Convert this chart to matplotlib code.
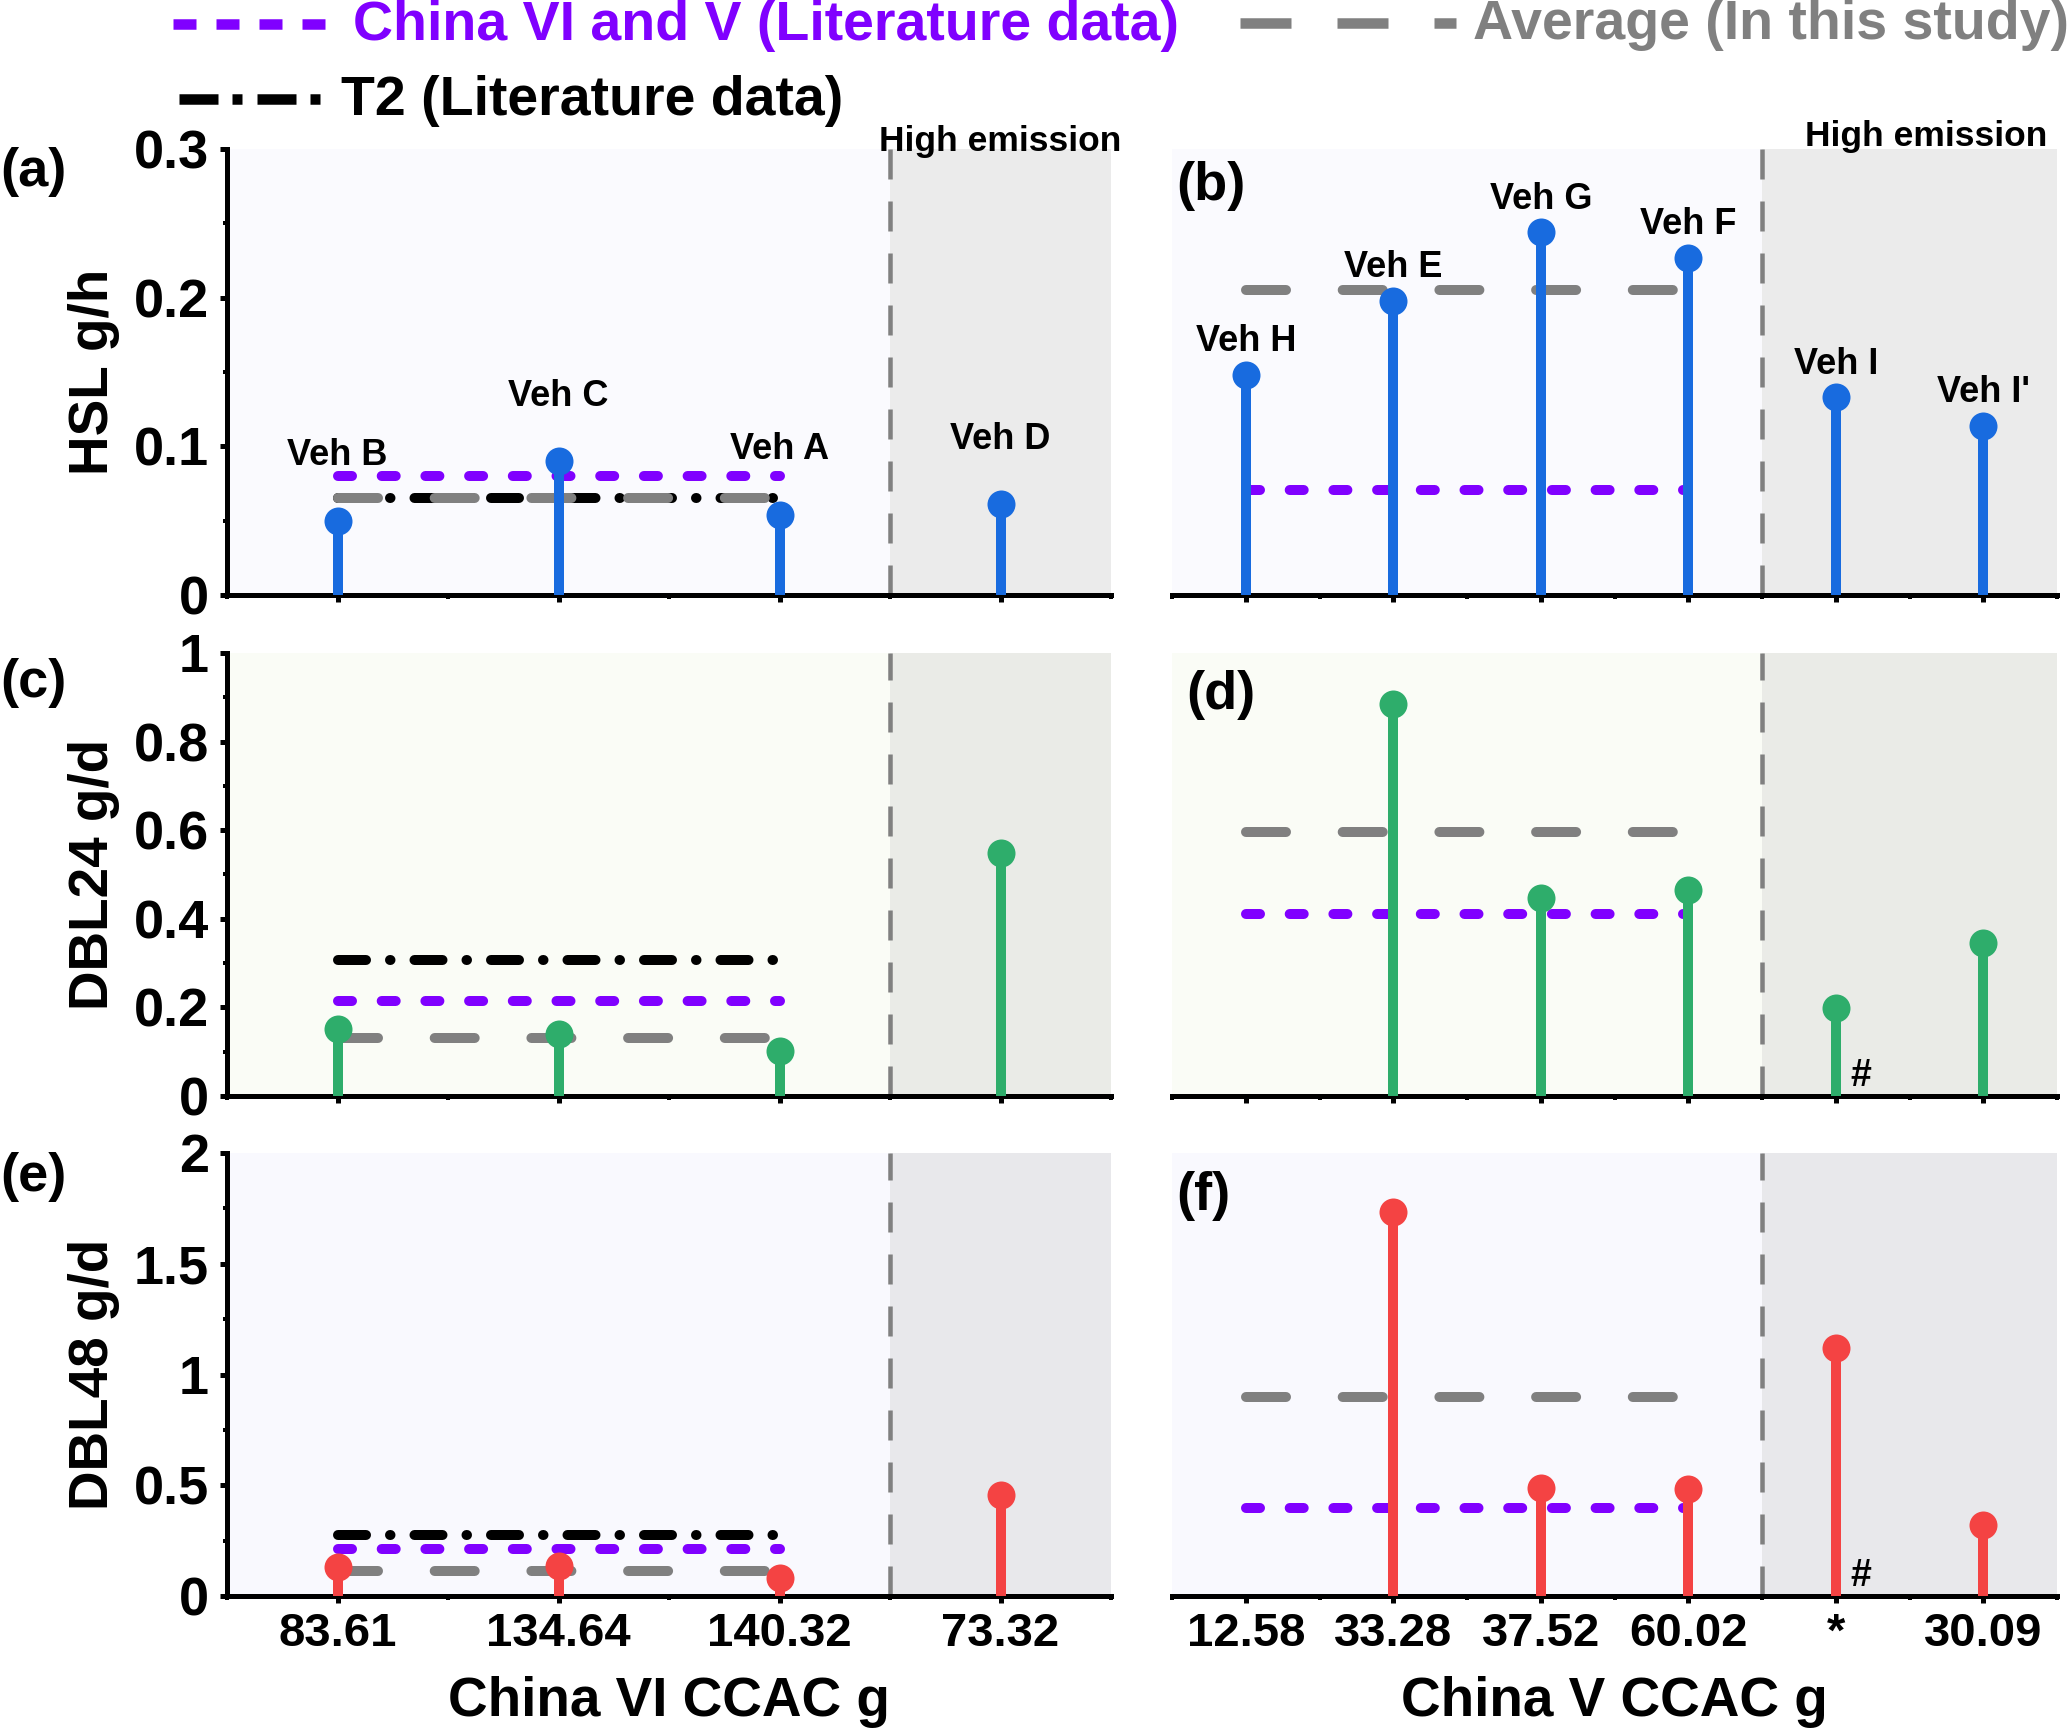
import numpy as np
import matplotlib
matplotlib.use('Agg')
import matplotlib.pyplot as plt
from matplotlib.lines import Line2D
from matplotlib.ticker import MultipleLocator, FuncFormatter, FixedLocator
import matplotlib.transforms as mtransforms

plt.rcParams['font.family'] = ['Liberation Sans', 'DejaVu Sans']
plt.rcParams['font.weight'] = 'bold'
plt.rcParams['lines.scale_dashes'] = False

# ---------------- data ----------------
vi_ticklabels = ['83.61', '134.64', '140.32', '73.32']
v_ticklabels = ['12.58', '33.28', '37.52', '60.02', '*', '30.09']
vi_vehicles = ['Veh B', 'Veh C', 'Veh A', 'Veh D']
v_vehicles = ['Veh H', 'Veh E', 'Veh G', 'Veh F', 'Veh I', "Veh I'"]

hsl_vi = [0.050, 0.090, 0.054, 0.061]
hsl_v = [0.148, 0.198, 0.244, 0.227, 0.133, 0.114]
dbl24_vi = [0.151, 0.139, 0.101, 0.549]
dbl24_v = [np.nan, 0.885, 0.448, 0.465, 0.199, 0.345]
dbl48_vi = [0.129, 0.136, 0.082, 0.458]
dbl48_v = [np.nan, 1.732, 0.489, 0.485, 1.118, 0.321]

# reference levels: [China VI/V literature, average this study, T2 literature]
hsl_ref_vi = [0.080, 0.065, 0.065]
hsl_ref_v = [0.0705, 0.205, None]
dbl24_ref_vi = [0.214, 0.131, 0.307]
dbl24_ref_v = [0.410, 0.597, None]
dbl48_ref_vi = [0.212, 0.111, 0.276]
dbl48_ref_v = [0.398, 0.898, None]

# ---------------- style ----------------
W, H, DPI = 2067, 1729, 100
PX = 72.0 / DPI
PURPLE = '#8000FF'
GRAY = '#808080'
BLACK = '#000000'
BLUE = '#186BDF'
GREEN = '#2EAD6B'
RED = '#F44343'

fig = plt.figure(figsize=(W / DPI, H / DPI), dpi=DPI)


def rect(x0, y0, x1, y1):
    return [x0 / W, 1 - y1 / H, (x1 - x0) / W, (y1 - y0) / H]


cols = [(227, 1111), (1172, 2057)]
rows = [(149, 595), (653, 1096), (1153, 1596)]

row_bg = [('#FAFAFE', '#EBEBEB'), ('#FAFCF6', '#EAEBE7'), ('#F9F9FE', '#E8E8EB')]
row_color = [BLUE, GREEN, RED]
row_ylim = [(0, 0.3), (0, 1.0), (0, 2.0)]
row_major = [0.1, 0.2, 0.5]
row_ylabel = ['HSL g/h', 'DBL24 g/d', 'DBL48 g/d']
row_vi = [hsl_vi, dbl24_vi, dbl48_vi]
row_v = [hsl_v, dbl24_v, dbl48_v]
row_ref_vi = [hsl_ref_vi, dbl24_ref_vi, dbl48_ref_vi]
row_ref_v = [hsl_ref_v, dbl24_ref_v, dbl48_ref_v]

LW_REF = 10 * PX
ref_styles = [
    dict(color=PURPLE, dashes=(14 * PX, 29.7 * PX), zorder=2.3),
    dict(color=GRAY, dashes=(40 * PX, 56.7 * PX), zorder=2.2),
    dict(color=BLACK, dashes=(28 * PX, 24 * PX, 0.5 * PX, 24 * PX), zorder=2.1),
]

SPINE_LW = 5 * PX


def style_axes(ax, nx, left, bottom_labels, ticklabels):
    ax.set_xlim(-0.5, nx - 0.5)
    for s in ['top', 'right']:
        ax.spines[s].set_visible(False)
    ax.spines['bottom'].set_linewidth(SPINE_LW)
    ax.spines['left'].set_linewidth(SPINE_LW)
    ax.xaxis.set_major_locator(FixedLocator(np.arange(nx)))
    ax.xaxis.set_minor_locator(FixedLocator(np.arange(nx + 1) - 0.5))
    ax.tick_params(axis='x', which='major', direction='out', length=7 * PX, width=5 * PX,
                   labelsize=34, pad=6.5)
    ax.tick_params(axis='x', which='minor', direction='out', length=4 * PX, width=4 * PX)
    if bottom_labels:
        ax.set_xticklabels(ticklabels)
    else:
        ax.tick_params(axis='x', which='both', labelbottom=False)
    if left:
        ax.tick_params(axis='y', which='major', direction='out', length=7 * PX, width=5 * PX,
                       labelsize=39, pad=8)
        ax.tick_params(axis='y', which='minor', direction='out', length=4 * PX, width=4 * PX)
        ax.yaxis.set_major_formatter(FuncFormatter(lambda v, _: f'{v:g}'))
    else:
        ax.spines['left'].set_visible(False)
        ax.tick_params(axis='y', which='both', left=False, labelleft=False)


axes = []
for r in range(3):
    y0, y1 = rows[r]
    for c in range(2):
        x0, x1 = cols[c]
        ax = fig.add_axes(rect(x0, y0, x1, y1))
        nx = 4 if c == 0 else 6
        nnorm = 3 if c == 0 else 4
        vals = row_vi[r] if c == 0 else row_v[r]
        refs = row_ref_vi[r] if c == 0 else row_ref_v[r]
        ax.set_facecolor(row_bg[r][0])
        ax.set_ylim(*row_ylim[r])
        ax.yaxis.set_major_locator(MultipleLocator(row_major[r]))
        ax.yaxis.set_minor_locator(MultipleLocator(row_major[r] / 2))
        style_axes(ax, nx, c == 0, r == 2, vi_ticklabels if c == 0 else v_ticklabels)
        sep = nnorm - 0.5
        ax.axvspan(sep, nx - 0.5, color=row_bg[r][1], lw=0, zorder=0.5)
        ax.axvline(sep, color=GRAY, lw=4.5 * PX, dashes=(30 * PX, 22 * PX), zorder=1)
        # reference lines
        for lvl, st in zip(refs, ref_styles):
            if lvl is None:
                continue
            ax.plot([0, nnorm - 1], [lvl, lvl], lw=LW_REF, solid_capstyle='round',
                    dash_capstyle='round', **st)
        # stems
        xs = np.arange(nx)
        v = np.array(vals, dtype=float)
        ok = ~np.isnan(v)
        ax.vlines(xs[ok], 0, v[ok], color=row_color[r], lw=10 * PX, zorder=3)
        ax.plot(xs[ok], v[ok], 'o', color=row_color[r], ms=28 * PX, mew=0, zorder=4,
                clip_on=False)
        if c == 0:
            ax.set_ylabel(row_ylabel[r], fontsize=39.5, fontweight='bold')
            ax.yaxis.set_label_coords(-0.121, 0.5)
        if r == 2:
            ax.set_xlabel('China VI CCAC g' if c == 0 else 'China V CCAC g',
                          fontsize=39.5, fontweight='bold')
            ax.xaxis.set_label_coords(0.5, -0.18)
        axes.append(ax)

# vehicle labels
ax_a, ax_b = axes[0], axes[1]
for i, name in enumerate(vi_vehicles):
    ax_a.annotate(name, (i, hsl_vi[i]), xytext=(0, 65 * PX), textcoords='offset points',
                  ha='center', va='center', fontsize=26, fontweight='bold')
for i, name in enumerate(v_vehicles):
    ax_b.annotate(name, (i, hsl_v[i]), xytext=(0, 33 * PX), textcoords='offset points',
                  ha='center', va='center', fontsize=26, fontweight='bold')

# High emission labels
for ax, xpos, dy in [(ax_a, 3.0, -2), (ax_b, 4.61, 3)]:
    tr = mtransforms.blended_transform_factory(ax.transData, ax.transAxes)
    ax.annotate('High emission', (xpos, 1.0), xycoords=tr, xytext=(0, dy * PX),
                textcoords='offset points', ha='center', va='baseline',
                fontsize=25.5, fontweight='bold')

# '#' marks
for ax in (axes[3], axes[5]):
    ax.annotate('#', (4, 0), xytext=(25 * PX, 20 * PX), textcoords='offset points',
                ha='center', va='center', fontsize=27, fontweight='bold')

# panel labels
for lab, x, y in [('(a)', 0, 172), ('(c)', 0, 683), ('(e)', 0, 1177),
                  ('(b)', 1176, 186), ('(d)', 1186, 695), ('(f)', 1176, 1196)]:
    fig.text(x / W, 1 - y / H, lab, ha='left', va='center', fontsize=39, fontweight='bold')


# legend (drawn manually in figure pixel coordinates)
def fig_line(x0, x1, y, color, dashes, lw):
    fig.add_artist(Line2D([x0 / W, x1 / W], [1 - y / H, 1 - y / H], transform=fig.transFigure,
                          color=color, lw=lw * PX, dashes=[d * PX for d in dashes],
                          dash_capstyle='butt'))


legend_items = [
    ('China VI and V (Literature data)', PURPLE, (173, 330, 24), (23, 20), 353),
    ('Average (In this study)', GRAY, (1240, 1456, 23), (51, 46), 1473),
    ('T2 (Literature data)', BLACK, (179, 322, 99), (39, 14, 10, 15), 341),
]
for text, color, (lx0, lx1, ly), dashes, tx in legend_items:
    fig_line(lx0, lx1, ly, color, dashes, 10.5)
    fig.text(tx / W, 1 - (ly + 2) / H, text, color=color, ha='left', va='center',
             fontsize=40, fontweight='bold')

fig.savefig('out.png', dpi=DPI, facecolor='white')
